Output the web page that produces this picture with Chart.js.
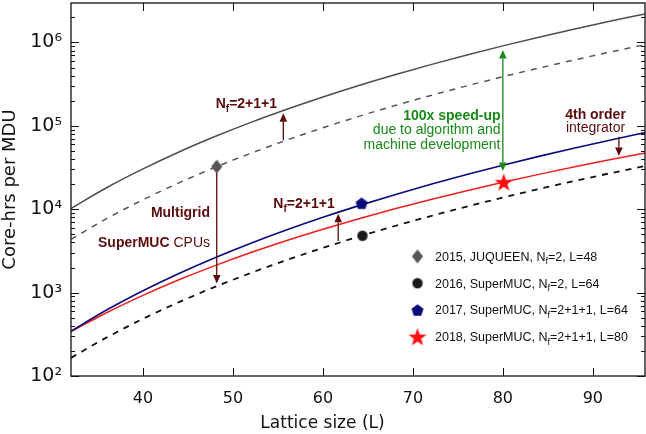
<!DOCTYPE html>
<html>
<head>
<meta charset="utf-8">
<script src="https://cdn.jsdelivr.net/npm/chart.js@4.4.0/dist/chart.umd.min.js"></script>
<style>
  html, body { margin: 0; padding: 0; background: #fff; }
</style>
</head>
<body>
<canvas id="c" width="646" height="434"></canvas>
<script>
// ---- data ----
const latticeL = [32, 36, 40, 44, 48, 52, 56, 60, 64, 68, 72, 76, 80, 84, 88, 92, 96];
const costJuqueenNf211 = [10200, 18200, 30400, 48600, 74400, 110000, 158000, 222000, 305000, 410000, 542000, 707000, 909000, 1155000, 1449000, 1802000, 2220000];
const costJuqueenNf2 = [4350, 7750, 12980, 20710, 31720, 46960, 67510, 94660, 129900, 174800, 231300, 301500, 387600, 492400, 618100, 768600, 947000];
const costSuperMUCNf211 = [345, 622, 1053, 1696, 2620, 3909, 5661, 7997, 11040, 14950, 19900, 26060, 33690, 42990, 54270, 67760, 83840];
const costIntegrator4 = [340, 578, 928, 1425, 2108, 3023, 4219, 5753, 7694, 10110, 13070, 16670, 21000, 26160, 32250, 39390, 47700];
const costSuperMUCNf2 = [165, 291, 485, 768, 1170, 1721, 2463, 3437, 4694, 6291, 8288, 10760, 13790, 17460, 21850, 27090, 33260];

const markerL = [48.2, 64.4, 64.3, 80.1];
const markerCost = [32400, 4810, 11800, 21100];
const markerLabels = [
  '2015, JUQUEEN, N_f=2, L=48',
  '2016, SuperMUC, N_f=2, L=64',
  '2017, SuperMUC, N_f=2+1+1, L=64',
  '2018, SuperMUC, N_f=2+1+1, L=80'
];

const arrowL = [48.2, 55.6, 61.7, 80.0, 92.9];
const arrowFrom = [27200, 67000, 4160, 28700, 74100];
const arrowTo = [1290, 141000, 8800, 811000, 43500];

const noteText = ['**N_f=2+1+1**', '**N_f=2+1+1**', '**Multigrid**', '**SuperMUC** CPUs',
  '**100x speed-up**', 'due to algorithm and', 'machine development', '**4th order**', 'integrator'];
const noteL = [48.08, 54.49, 47.45, 47.45, 79.74, 79.74, 79.74, 90.3, 90.3];
const noteCost = [162000, 10300, 8070, 3570, 116000, 79100, 52700, 120000, 85100];

const xTicks = [40, 50, 60, 70, 80, 90];
const yMajor = [1e2, 1e3, 1e4, 1e5, 1e6];
const yTickLabels = ['10²', '10³', '10⁴', '10⁵', '10⁶'];

// ---- styles ----
const MAROON = '#5b0b0b';
const GREEN = '#178a17';
const noteStyle = [
  {color: MAROON, align: 'left'}, {color: MAROON, align: 'left'},
  {color: MAROON, align: 'right'}, {color: MAROON, align: 'right'},
  {color: GREEN, align: 'right'}, {color: GREEN, align: 'right'}, {color: GREEN, align: 'right'},
  {color: MAROON, align: 'center'}, {color: MAROON, align: 'center'}
];
const arrowStyle = [
  {color: MAROON}, {color: MAROON}, {color: MAROON}, {color: GREEN, both: true}, {color: MAROON}
];
const SANS = '"Liberation Sans", Arial, sans-serif';

function markCanvas(w, h, draw) {
  const c = document.createElement('canvas');
  c.width = w; c.height = h;
  draw(c.getContext('2d'), w / 2, h / 2);
  return c;
}
function polygon(g, cx, cy, radii, n, color) {
  g.fillStyle = color;
  g.beginPath();
  for (let i = 0; i < n * radii.length; i++) {
    const r = radii[i % radii.length];
    const a = -Math.PI / 2 + i * Math.PI * 2 / (n * radii.length);
    const px = cx + r * Math.cos(a), py = cy + r * Math.sin(a);
    if (i === 0) g.moveTo(px, py); else g.lineTo(px, py);
  }
  g.closePath();
  g.fill();
}
const diamondImg = markCanvas(14, 16, (g, cx, cy) => {
  g.fillStyle = '#555';
  g.beginPath();
  g.moveTo(cx, cy - 7); g.lineTo(cx + 5.6, cy); g.lineTo(cx, cy + 7); g.lineTo(cx - 5.6, cy);
  g.closePath(); g.fill();
});
const circleImg = markCanvas(12, 12, (g, cx, cy) => {
  g.fillStyle = '#1a1a1a';
  g.beginPath(); g.arc(cx, cy, 5.2, 0, Math.PI * 2); g.fill();
});
const pentagonImg = markCanvas(14, 14, (g, cx, cy) => polygon(g, cx, cy + 0.6, [6.3], 5, '#0a0a7d'));
const starImg = markCanvas(22, 22, (g, cx, cy) => polygon(g, cx, cy + 0.8, [9.5, 3.9], 5, '#ff1010'));
const markerImgs = [diamondImg, circleImg, pentagonImg, starImg];

// rich text: **bold** and _x subscript
function parseRich(s) {
  const segs = [];
  let bold = false, i = 0, buf = '';
  const push = (sub) => { if (buf) segs.push({t: buf, bold, sub}); buf = ''; };
  while (i < s.length) {
    if (s.startsWith('**', i)) { push(false); bold = !bold; i += 2; }
    else if (s[i] === '_') { push(false); buf = s[i + 1]; push(true); i += 2; }
    else { buf += s[i]; i++; }
  }
  push(false);
  return segs;
}
function drawRich(ctx, s, x, y, align, size, color) {
  const segs = parseRich(s);
  const fontOf = sg => (sg.bold ? 'bold ' : '') + (sg.sub ? size * 0.72 : size) + 'px ' + SANS;
  let w = 0;
  segs.forEach(sg => { ctx.font = fontOf(sg); sg.w = ctx.measureText(sg.t).width; w += sg.w; });
  let cx = align === 'right' ? x - w : align === 'center' ? x - w / 2 : x;
  ctx.fillStyle = color;
  ctx.textAlign = 'left';
  ctx.textBaseline = 'alphabetic';
  segs.forEach(sg => {
    ctx.font = fontOf(sg);
    ctx.fillText(sg.t, cx, sg.sub ? y + size * 0.28 : y);
    cx += sg.w;
  });
}
function drawArrow(ctx, x, y0, y1, color, both) {
  const dir = Math.sign(y1 - y0), hl = 8.5, hw = 3.8;
  ctx.strokeStyle = color; ctx.fillStyle = color; ctx.lineWidth = 1.3;
  ctx.beginPath();
  ctx.moveTo(x, both ? y0 + dir * hl : y0);
  ctx.lineTo(x, y1 - dir * hl);
  ctx.stroke();
  const head = (tip, d) => {
    ctx.beginPath();
    ctx.moveTo(x, tip);
    ctx.lineTo(x - hw, tip - d * hl);
    ctx.lineTo(x + hw, tip - d * hl);
    ctx.closePath(); ctx.fill();
  };
  head(y1, dir);
  if (both) head(y0, -dir);
}
const isMajor = v => yMajor.some(m => Math.abs(m - v) < 1e-6 * m);

const overlay = {
  id: 'overlay',
  afterDatasetsDraw(chart) {
    const {ctx, chartArea: a, scales: {x, y}} = chart;
    ctx.save();
    arrowL.forEach((L, i) => {
      drawArrow(ctx, x.getPixelForValue(L), y.getPixelForValue(arrowFrom[i]),
        y.getPixelForValue(arrowTo[i]), arrowStyle[i].color, arrowStyle[i].both);
    });
    noteText.forEach((t, i) => {
      drawRich(ctx, t, x.getPixelForValue(noteL[i]), y.getPixelForValue(noteCost[i]),
        noteStyle[i].align, 14, noteStyle[i].color);
    });
    // legend
    markerLabels.forEach((lab, i) => {
      const base = a.top + 257.7 + i * 26.8;
      const img = markerImgs[i];
      ctx.drawImage(img, a.right - 227.5 - img.width / 2, base - 4.3 - img.height / 2);
      drawRich(ctx, lab, a.right - 210, base, 'left', 12.5, '#111');
    });
    ctx.restore();
  },
  afterDraw(chart) {
    const {ctx, chartArea: a, scales: {x, y}} = chart;
    ctx.save();
    ctx.strokeStyle = '#111';
    ctx.lineWidth = 1;
    const line = (x0, y0, x1, y1) => { ctx.beginPath(); ctx.moveTo(x0, y0); ctx.lineTo(x1, y1); ctx.stroke(); };
    y.ticks.forEach(t => {
      const p = Math.round(y.getPixelForValue(t.value)) + 0.5;
      const len = isMajor(t.value) ? 8 : 4;
      line(a.left, p, a.left + len, p);
      line(a.right, p, a.right - len, p);
    });
    x.ticks.forEach(t => {
      const p = Math.round(x.getPixelForValue(t.value)) + 0.5;
      line(p, a.bottom, p, a.bottom - 8);
      line(p, a.top, p, a.top + 8);
    });
    ctx.lineWidth = 1.3;
    ctx.strokeRect(a.left, a.top, a.right - a.left, a.bottom - a.top);
    ctx.restore();
  }
};

const curve = (vals, color, width, dash) => ({
  type: 'scatter',
  showLine: true,
  data: latticeL.map((L, i) => ({x: L, y: vals[i]})),
  borderColor: color,
  borderWidth: width,
  borderDash: dash || [],
  pointRadius: 0,
  cubicInterpolationMode: 'monotone',
  order: 2
});

new Chart(document.getElementById('c'), {
  type: 'scatter',
  data: {
    datasets: [
      {
        data: markerL.map((L, i) => ({x: L, y: markerCost[i]})),
        pointStyle: markerImgs,
        showLine: false,
        order: 0
      },
      curve(costJuqueenNf211, '#4d4d4d', 1.5),
      curve(costJuqueenNf2, '#555555', 1.5, [6, 6]),
      curve(costSuperMUCNf211, '#0a0a7d', 1.6),
      curve(costIntegrator4, '#f01e1e', 1.5),
      curve(costSuperMUCNf2, '#111111', 1.8, [6, 6])
    ]
  },
  options: {
    responsive: false,
    animation: false,
    devicePixelRatio: 1,
    layout: {autoPadding: false, padding: {top: 3, right: 1, left: 0, bottom: 0}},
    plugins: {
      legend: {display: false},
      tooltip: {enabled: false},
      title: {
        display: true,
        position: 'bottom',
        text: 'Lattice size (L)',
        color: '#111',
        font: {family: '"DejaVu Sans"', size: 17, weight: 'normal'},
        padding: {top: 7, bottom: 0}
      }
    },
    scales: {
      x: {
        type: 'linear',
        min: 32,
        max: 95.8,
        grid: {display: false, drawTicks: false, tickLength: 0},
        border: {display: false},
        afterBuildTicks: s => { s.ticks = xTicks.map(v => ({value: v})); },
        afterFit: s => { s.height = 30.6; s.paddingLeft = 0; s.paddingRight = 0; s.paddingTop = 0; s.paddingBottom = 0; },
        ticks: {font: {family: '"DejaVu Sans"', size: 16}, color: '#111', padding: 13, maxRotation: 0, autoSkip: false}
      },
      y: {
        type: 'logarithmic',
        min: 100,
        max: 2.97e6,
        grid: {display: false, drawTicks: false, tickLength: 0},
        border: {display: false},
        afterBuildTicks: s => {
          const vals = [];
          yMajor.forEach(m => { for (let k = 1; k <= 9; k++) if (m * k <= 2.97e6) vals.push(m * k); });
          s.ticks = vals.map(v => ({value: v}));
        },
        afterFit: s => { s.width = 71; s.paddingTop = 0; s.paddingBottom = 0; s.paddingLeft = 0; s.paddingRight = 0; },
        ticks: {
          autoSkip: false,
          padding: 9,
          color: '#111',
          font: {family: '"DejaVu Sans"', size: 19},
          callback: v => {
            const i = yMajor.findIndex(m => Math.abs(m - v) < 1e-6 * m);
            return i >= 0 ? yTickLabels[i] : '';
          }
        },
        title: {
          display: true,
          text: 'Core-hrs per MDU',
          color: '#111',
          font: {family: '"DejaVu Sans"', size: 18},
          padding: 0
        }
      }
    }
  },
  plugins: [overlay]
});
</script>
</body>
</html>
